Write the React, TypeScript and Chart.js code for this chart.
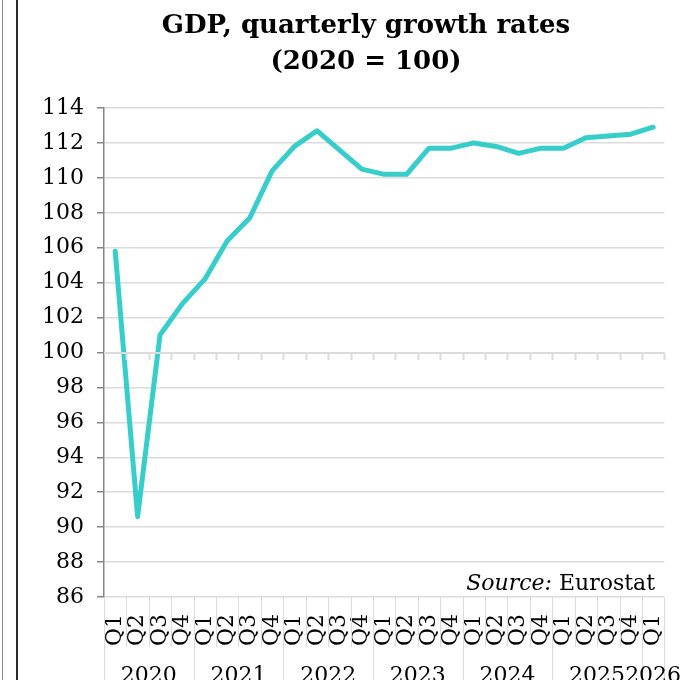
import React, { useEffect, useRef } from "react";
import { Chart, registerables } from "chart.js";

Chart.register(...registerables);

const titleLines = ["GDP, quarterly growth rates", "(2020 = 100)"];
const years = ["2020", "2021", "2022", "2023", "2024", "2025", "2026"];
const quartersPerYear = [4, 4, 4, 4, 4, 4, 1];
const quarterLabels = [
  "Q1", "Q2", "Q3", "Q4",
  "Q1", "Q2", "Q3", "Q4",
  "Q1", "Q2", "Q3", "Q4",
  "Q1", "Q2", "Q3", "Q4",
  "Q1", "Q2", "Q3", "Q4",
  "Q1", "Q2", "Q3", "Q4",
  "Q1",
];
const gdpIndex = [
  105.8, 90.6, 101.0, 102.8,
  104.2, 106.4, 107.7, 110.4,
  111.8, 112.7, 111.6, 110.5,
  110.2, 110.2, 111.7, 111.7,
  112.0, 111.8, 111.4, 111.7,
  111.7, 112.3, 112.4, 112.5,
  112.9,
];
const yMin = 86;
const yMax = 114;
const yStep = 2;
const axisCrossValue = 100;
const sourceLabel = "Source:";
const sourceName = " Eurostat";

const FONT = "'DejaVu Serif', serif";
const GRID = "#dcdcdc";
const AXIS = "#868686";
const LINE = "#36CDCB";

const overlayPlugin = {
  id: "overlay",
  afterDraw(chart: any) {
    const ctx = chart.ctx;
    const area = chart.chartArea;
    const y = chart.scales.y;
    const n = quarterLabels.length;
    const w = (area.right - area.left) / n;
    ctx.save();

    // horizontal axis crossing at 100 with tick marks
    const y100 = Math.round(y.getPixelForValue(axisCrossValue));
    ctx.strokeStyle = GRID;
    ctx.lineWidth = 2;
    ctx.beginPath();
    ctx.moveTo(area.left, y100);
    ctx.lineTo(area.right, y100);
    for (let k = 1; k <= n; k++) {
      const bx = Math.round(area.left + k * w) + 0.5;
      ctx.moveTo(bx, y100);
      ctx.lineTo(bx, y100 + 7);
    }
    ctx.stroke();

    // category separators (multi-level axis)
    ctx.lineWidth = 1;
    ctx.strokeStyle = GRID;
    const canvasH = chart.height;
    let idx = 0;
    const yearStarts: number[] = [];
    for (let g = 0; g < quartersPerYear.length; g++) {
      yearStarts.push(idx);
      idx += quartersPerYear[g];
    }
    yearStarts.push(idx);
    ctx.beginPath();
    for (let k = 0; k <= n; k++) {
      const bx = Math.round(area.left + k * w) + 0.5;
      const isYear = yearStarts.indexOf(k) >= 0;
      ctx.moveTo(bx, area.bottom);
      ctx.lineTo(bx, isYear ? canvasH : area.bottom + 50);
    }
    ctx.stroke();

    // year labels
    ctx.fillStyle = "#000";
    ctx.font = `22px ${FONT}`;
    ctx.textAlign = "center";
    ctx.textBaseline = "alphabetic";
    for (let g = 0; g < years.length; g++) {
      const a = area.left + yearStarts[g] * w;
      const b = area.left + yearStarts[g + 1] * w;
      ctx.fillText(years[g], (a + b) / 2, 682);
    }

    // title
    ctx.font = `bold 26px ${FONT}`;
    ctx.textAlign = "center";
    ctx.fillText(titleLines[0], 366, 33);
    ctx.fillText(titleLines[1], 366, 69);

    // source
    ctx.font = `22px ${FONT}`;
    const regW = ctx.measureText(sourceName).width;
    ctx.textAlign = "right";
    ctx.fillText(sourceName, 655, 590);
    ctx.font = `italic 22px ${FONT}`;
    ctx.fillText(sourceLabel, 655 - regW, 590);

    ctx.restore();
  },
};

export default function App() {
  const ref = useRef<HTMLCanvasElement | null>(null);

  useEffect(() => {
    if (!ref.current) return;
    const chart = new Chart(ref.current, {
      type: "line",
      data: {
        labels: quarterLabels,
        datasets: [
          {
            data: gdpIndex,
            borderColor: LINE,
            backgroundColor: LINE,
            borderWidth: 5,
            pointRadius: 0,
            borderCapStyle: "round",
            borderJoinStyle: "round",
            tension: 0,
          },
        ],
      },
      options: {
        animation: false,
        responsive: false,
        devicePixelRatio: 1,
        layout: { padding: { left: 0, right: 24, top: 108, bottom: 0 } },
        plugins: {
          legend: { display: false },
          title: { display: false },
          tooltip: { enabled: false },
        },
        scales: {
          x: {
            type: "category",
            offset: true,
            grid: { display: false, drawTicks: false },
            border: { display: false },
            ticks: {
              autoSkip: false,
              minRotation: 90,
              maxRotation: 90,
              padding: 17,
              color: "#000",
              font: { family: FONT, size: 22 },
            },
            afterFit(scale: any) {
              scale.height = 83;
            },
          },
          y: {
            min: yMin,
            max: yMax,
            ticks: {
              stepSize: yStep,
              padding: 13,
              color: "#000",
              font: { family: FONT, size: 22 },
            },
            grid: { color: GRID, lineWidth: 1.5, tickLength: 7, tickColor: AXIS },
            border: { display: true, color: AXIS, width: 1.5 },
            afterFit(scale: any) {
              scale.width = 104;
            },
          },
        },
      },
      plugins: [overlayPlugin],
    });
    return () => chart.destroy();
  }, []);

  return (
    <div style={{ position: "fixed", left: 0, top: 0, width: 697, height: 680, background: "#fff", overflow: "hidden" }}>
      <canvas ref={ref} width={697} height={680} style={{ position: "absolute", left: 0, top: 0 }} />
      <div style={{ position: "absolute", left: 2, top: 0, width: 1, height: 680, background: "#8a8a8a" }} />
      <div style={{ position: "absolute", left: 16, top: 0, width: 2, height: 680, background: "#2a2a2a" }} />
    </div>
  );
}
